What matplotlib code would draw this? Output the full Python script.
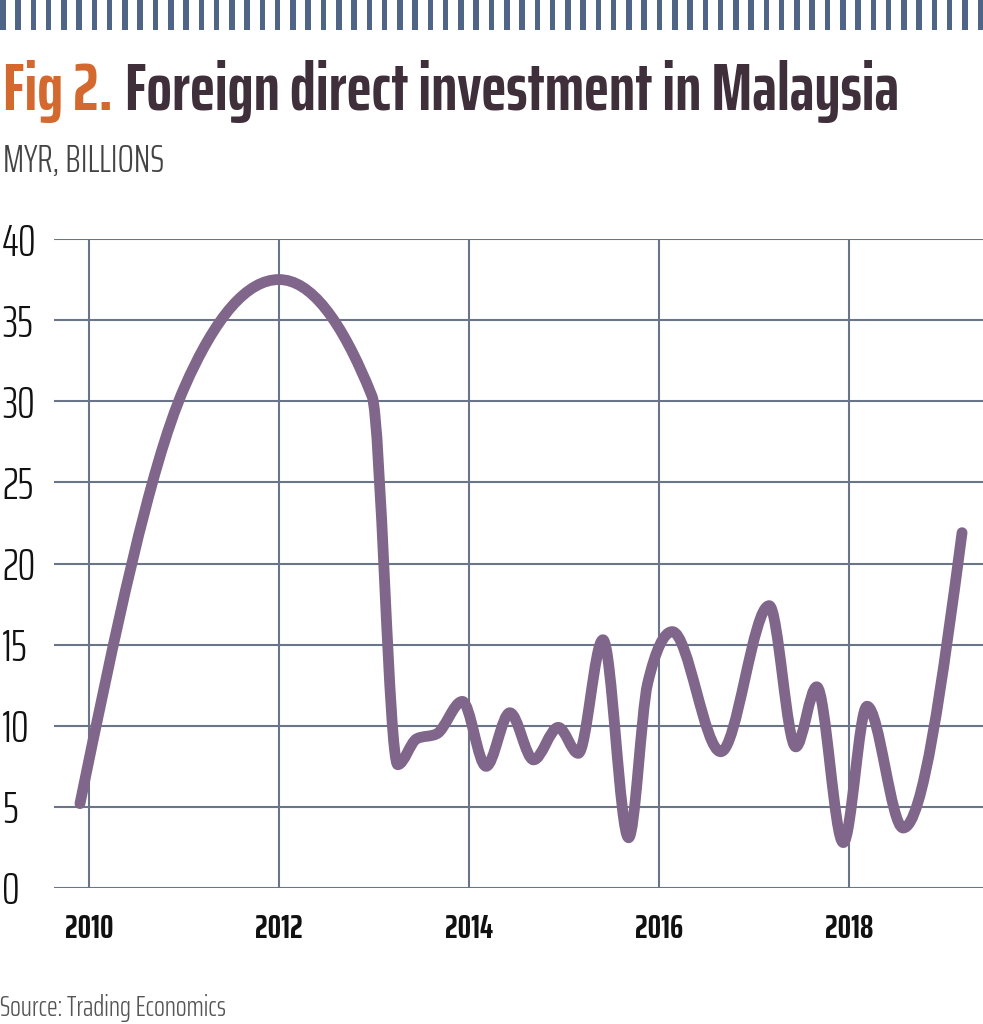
import numpy as np
import matplotlib
matplotlib.use('Agg')
import matplotlib.pyplot as plt
from matplotlib.path import Path
from matplotlib.patches import PathPatch

# FDI in Malaysia, MYR billions
years = [2009.905, 2011.0, 2012.0, 2012.98, 2013.25, 2013.45, 2013.66, 2013.93,
         2014.18, 2014.43, 2014.68, 2014.94, 2015.15, 2015.41, 2015.68, 2015.88,
         2016.14, 2016.65, 2017.16, 2017.44, 2017.66, 2017.94, 2018.19, 2018.57,
         2019.19]
fdi = [5.2, 30.8, 37.5, 30.3, 7.6, 9.2, 9.5, 11.5,
       7.5, 10.8, 7.9, 9.9, 8.3, 15.3, 3.1, 12.6,
       15.8, 8.4, 17.4, 8.7, 12.4, 2.8, 11.2, 3.7,
       21.9]
x_ticks = [2010, 2012, 2014, 2016, 2018]
y_ticks = [0, 5, 10, 15, 20, 25, 30, 35, 40]

title_fig = 'Fig 2.'
title_main = 'Foreign direct investment in Malaysia'
subtitle = 'MYR, BILLIONS'
source = 'Source: Trading Economics'

COND = ['Saira ExtraCondensed', 'Liberation Sans Narrow', 'DejaVu Sans']
LINE_C = '#80668a'
GRID_C = '#6b7589'


def monotone_path(x, y):
    # same smoothing as d3.curveMonotoneX, as cubic bezier segments
    x = np.asarray(x, float)
    y = np.asarray(y, float)
    h = np.diff(x)
    s = np.diff(y) / h
    n = len(x)
    t = np.zeros(n)
    for i in range(1, n - 1):
        p = (s[i-1] * h[i] + s[i] * h[i-1]) / (h[i-1] + h[i])
        t[i] = (np.sign(s[i-1]) + np.sign(s[i])) * min(abs(s[i-1]), abs(s[i]), 0.5 * abs(p))
    t[0] = (3 * s[0] - t[1]) / 2
    t[-1] = (3 * s[-1] - t[-2]) / 2
    verts = [(x[0], y[0])]
    codes = [Path.MOVETO]
    for i in range(n - 1):
        d = h[i] / 3
        verts += [(x[i] + d, y[i] + d * t[i]), (x[i+1] - d, y[i+1] - d * t[i+1]), (x[i+1], y[i+1])]
        codes += [Path.CURVE4] * 3
    return Path(verts, codes)


W, H = 983, 1024
fig = plt.figure(figsize=(W / 100, H / 100), dpi=100)

# striped band at the top
band = fig.add_axes([0, 1 - 30 / H, 1, 30 / H])
band.bar(np.linspace(0, W - 5.5, 65), 1, width=5.5, align='edge', color='#4e6585')
band.set_xlim(0, W)
band.set_ylim(0, 1)
band.axis('off')

# title, fitted to the reference width
renderer = fig.canvas.get_renderer()
t1 = fig.text(3 / W, 1 - 110 / H, title_fig, color='#d4692f', fontsize=40,
              fontweight='bold', family=COND, va='baseline')
t2 = fig.text(0, 1 - 110 / H, title_main, color='#3e2f3b', fontsize=40,
              fontweight='bold', family=COND, va='baseline')
w1 = t1.get_window_extent(renderer).width
w2 = t2.get_window_extent(renderer).width
size = 40 * (897 - 12) / (w1 + w2)
t1.set_fontsize(size)
t2.set_fontsize(size)
bb1 = t1.get_window_extent(renderer)
t2.set_x((bb1.x1 + 12) / W)

fig.text(3 / W, 1 - 172 / H, subtitle, color='#444444', fontsize=27.5,
         fontweight=300, family=COND, va='baseline')
fig.text(0, 1 - 1016 / H, source, color='#555555', fontsize=20.5,
         fontweight=300, family=COND, va='baseline')

# main chart
ax = fig.add_axes([54 / W, 1 - 888 / H, 1 - 54 / W, (888 - 239) / H])
ax.add_patch(PathPatch(monotone_path(years, fdi), fill=False, edgecolor=LINE_C,
                       linewidth=7.8, capstyle='round', joinstyle='round',
                       clip_on=False, zorder=3))
ax.set_xlim(2010 - 35 / 95, 2010 + (W - 89) / 95)
ax.set_ylim(0, 40)
ax.set_xticks(x_ticks)
ax.set_yticks(y_ticks)
ax.set_xticklabels([str(v) for v in x_ticks], family=COND, fontweight='bold',
                   fontsize=24, color='#111111')
ax.set_yticklabels([str(v) for v in y_ticks], family=COND, fontweight=300,
                   fontsize=32, color='#111111')
for lbl in ax.get_yticklabels():
    lbl.set_ha('left')
ax.tick_params(axis='both', length=0)
ax.tick_params(axis='y', pad=37.4)
ax.tick_params(axis='x', pad=19)
ax.grid(True, color=GRID_C, linewidth=1.5)
ax.set_axisbelow(True)
for sp in ax.spines.values():
    sp.set_visible(False)

fig.savefig('out.png', dpi=100)
